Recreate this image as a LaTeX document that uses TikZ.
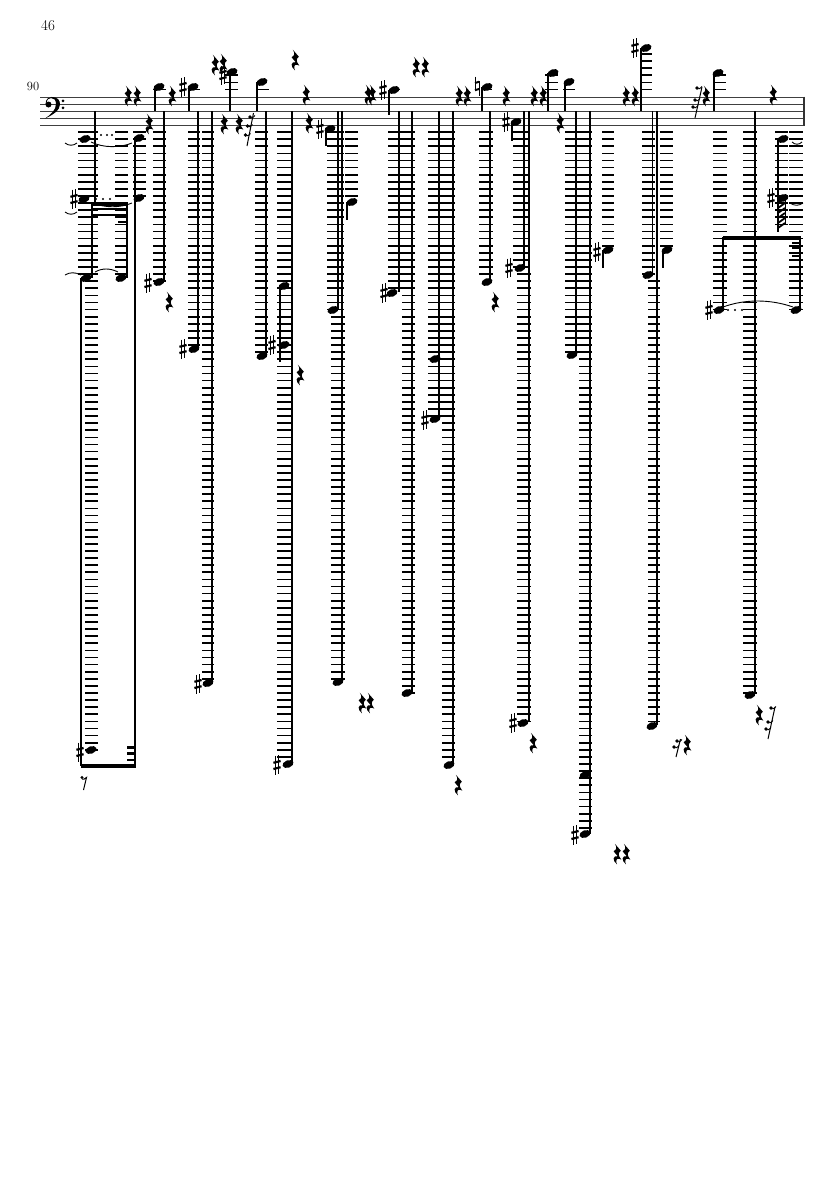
\documentclass[tikz,border=0pt]{standalone}
\tikzset{
  stemline/.style={line width=1.2pt,black},
  ledgerline/.style={line width=1.7pt,black},
  staffline/.style={line width=1pt,black!75},
  beamline/.style={line width=4pt,black,line cap=butt},
  stubline/.style={line width=2.6pt,black,line cap=butt},
  tieline/.style={line width=0.9pt,black},
  numtext/.style={inner sep=0pt}
}
\newcommand{\nh}[2]{\fill[black,rotate around={20:(#1,#2)}] (#1,#2) ellipse [x radius=5.7,y radius=3.7];}
\newcommand{\stm}[3]{\draw[stemline] (#1,#2) -- (#1,#3);}
\newcommand{\ldg}[4]{\foreach \k in {#3,...,#4}{\draw[ledgerline] (#1,125+\k*7.1) -- (#2,125+\k*7.1);}}
\newcommand{\shp}[2]{\begin{scope}[shift={(#1,#2)}]
  \draw[line width=0.8pt] (-1.7,-9.5) -- (-1.7,9.5) (1.7,-10) -- (1.7,9);
  \draw[line width=2.2pt] (-3.6,-2.2) -- (3.6,-4) (-3.6,4) -- (3.6,2.2);
\end{scope}}
\newcommand{\nat}[2]{\begin{scope}[shift={(#1,#2)}]
  \draw[line width=0.8pt] (-2,-9.5) -- (-2,5) (2,-5) -- (2,9.5);
  \draw[line width=2pt] (-2,-3) -- (2,-4.2) (-2,4.2) -- (2,3);
\end{scope}}
\newcommand{\qrst}[2]{\begin{scope}[shift={(#1,#2)},scale=1.08]
  \fill[black] (-2,-9.5) -- (3.6,-3) .. controls (1,-1) and (0.7,1) .. (4,5.2)
   .. controls (1,3.6) and (-2.2,4) .. (0,9.6) .. controls (-4.6,6) and (-3.8,1.2) .. (0.6,2)
   -- (-3.2,-2.6) .. controls (-0.6,-4) and (0.4,-5.6) .. (-2,-9.5) -- cycle;
\end{scope}}
% slashed rest: stem from (#1,#2) to (#3,#4), flag dots in #5 as x/y pairs
\newcommand{\srst}[5]{\draw[line width=1pt] (#1,#2) -- (#3,#4);
  \foreach \dx/\dy in {#5}{\fill[black] (\dx,\dy) circle (1.8);
    \draw[line width=0.9pt] (\dx,\dy+0.8) .. controls (\dx+2,\dy+1.4) and (\dx+3.5,\dy+0.5) .. (\dx+5,\dy-1.5);}}
\newcommand{\dotsrow}[4]{\foreach \q in {#1,#2,#3}{\fill[black] (\q,#4) circle (1.2);}}
\begin{document}
\begin{tikzpicture}[x=1pt,y=-1pt]
\useasboundingbox (0,0) rectangle (835,1181);
\fill[white] (0,0) rectangle (835,1181);
\node[numtext,font=\fontsize{15}{15}\selectfont] (pagenum) at (48,26) {46};
\node[numtext,font=\fontsize{12.5}{12.5}\selectfont] (barnum) at (33,86) {90};
% staff
\foreach \y in {97,104.1,111.2,118.3,125.4}{\draw[staffline] (40,\y) -- (804,\y);}
\draw[line width=2pt,black!80] (803.5,96.5) -- (803.5,126);
% bass clef
\fill[black] (48.5,104.5) circle (3);
\draw[line width=0.8pt] (46,104) .. controls (46,99) and (49,97.3) .. (52,97.3);
\fill[black] (52,97) .. controls (58,97) and (60,100.5) .. (60,104.5) .. controls (60,110) and (53,115) .. (45,118.5) .. controls (51,114.5) and (56,110) .. (56,104) .. controls (56,100) and (54,98) .. (51,98) -- cycle;
\fill[black] (63,100.8) circle (1.5) (63,107.8) circle (1.5);
% ledger columns
\ldg{78}{98}{1}{21}\ldg{85}{98}{22}{88}
\ldg{115}{128}{1}{21}\ldg{133}{146}{1}{10}
\ldg{153}{166}{1}{22}\ldg{188}{200}{1}{31}\ldg{202}{214}{1}{78}
\ldg{255}{268}{1}{32}\ldg{277}{293}{1}{89}
\ldg{327}{344}{1}{26}\ldg{331}{345}{27}{78}\ldg{345}{358}{1}{10}
\ldg{388}{402}{1}{23}\ldg{402}{415}{1}{80}
\ldg{428}{443}{1}{41}\ldg{442}{455}{1}{89}\ldg{479}{493}{1}{21}
\ldg{513}{530}{1}{20}\ldg{517}{531}{21}{84}
\ldg{565}{592}{1}{32}\ldg{579}{592}{33}{99}\ldg{602}{614}{1}{17}
\ldg{642}{655}{1}{21}\ldg{648}{660}{22}{84}\ldg{660}{673}{1}{17}
\ldg{713}{727}{1}{26}\ldg{743}{757}{1}{80}
\ldg{775}{788}{1}{14}\ldg{789}{803}{1}{26}
% ledgers above staff
\ldg{153}{166}{-5}{-5}\ldg{188}{200}{-5}{-5}\ldg{225}{238}{-7}{-5}\ldg{256}{269}{-5}{-5}
\ldg{389}{400}{-5}{-5}\ldg{482}{492}{-5}{-5}\ldg{545}{558}{-7}{-5}\ldg{563}{575}{-5}{-5}
\ldg{640}{652}{-10}{-5}\ldg{713}{726}{-7}{-5}
% first group
\stm{95}{111}{202}\stm{92}{203}{278}\stm{81}{278}{766}\stm{135}{138}{766}\stm{127}{203}{278}
\draw[beamline] (92,203.5) -- (127.5,203.5);
\draw[stubline] (92,209) -- (127.5,209) (92,215) -- (127.5,215);
\draw[stubline] (118,222) -- (127.5,222);
\draw[beamline] (80.5,766) -- (135.5,766);
\draw[stubline] (127,747.5) -- (135.5,747.5) (127,753.5) -- (135.5,753.5) (127,760) -- (135.5,760);
\nh{85}{139}\nh{139}{138}\nh{84}{199}\nh{139}{198}\nh{86}{278}\nh{121}{278}\nh{91}{750}
\shp{74}{199}\shp{80}{752}
\dotsrow{101}{107}{112}{135}\dotsrow{96}{103}{110}{199}
\draw[tieline] (65,143) .. controls (69,146) and (73,146) .. (77,143);
\draw[tieline] (91,142) .. controls (103,148) and (120,148) .. (132,143);
\draw[tieline] (65,212) .. controls (69,215) and (73,215) .. (77,212);
\draw[tieline] (93,203) .. controls (105,208) and (120,208) .. (132,203);
\draw[tieline] (65,275) .. controls (70,272) and (75,272) .. (81,275);
\draw[tieline] (95,272) .. controls (102,268) and (110,268) .. (118,272);
% eighth rest under the beam
\fill[black] (82,777.5) circle (1.6);
\draw[line width=1pt] (82,779) .. controls (83.5,779.5) and (85,779) .. (86.5,777.5) -- (83.5,790);
% second group
\qrst{128}{96}\qrst{137}{96}\qrst{149}{124}
\stm{155}{87}{111}\nh{159}{87}\stm{164}{111}{282}\nh{159}{282}\shp{148}{283}\qrst{169}{302}
\qrst{172}{96}\shp{183}{87}\stm{189}{87}{111}\nh{193}{87}
\stm{198}{111}{349}\nh{194}{349}\shp{183}{349}
\stm{212}{111}{683}\nh{208}{683}\shp{198}{684}
\qrst{215}{65}\qrst{223}{64}\shp{223}{75}\nh{232}{72}\stm{230}{72}{111}
\qrst{224}{124}\qrst{239}{124}
\srst{253.5}{113}{247}{146}{250/117,247.5/126,245.5/135}
\nh{262}{82}\stm{257}{82}{111}\stm{266}{111}{356}\nh{262}{356}
\stm{292}{111}{764}\nh{288}{764}\shp{277}{765}
\stm{280}{286}{362}\nh{284}{286}\nh{284}{345}\shp{272}{345}\qrst{300}{375}
\qrst{295}{60}\qrst{306}{95}\qrst{309}{123}\shp{320}{129}\nh{330}{129}\stm{326}{129}{146}
\stm{338}{111}{310}\nh{333}{310}\stm{342}{111}{682}\nh{338}{682}
\nh{352}{202}\stm{347}{202}{220}
\qrst{362}{703}\qrst{370}{703}
% third group
\qrst{368}{95}\qrst{372}{95}\shp{383}{90}\nh{394}{90}\stm{389}{90}{115}
\stm{399}{111}{292}\nh{392}{293}\shp{384}{293}
\stm{412}{111}{693}\nh{407}{693}
\qrst{416}{67}\qrst{425}{67}
\stm{439}{111}{419}\nh{435}{419}\shp{425}{420}\nh{435}{359}
\stm{453}{111}{764}\nh{449}{765}\qrst{458}{785}
\qrst{459}{96}\qrst{467}{96}\nat{477}{86}\nh{487}{87}\stm{482}{87}{111}
\stm{490}{111}{282}\nh{487}{282}\qrst{495}{302}
\qrst{506}{96}\shp{506}{122}\nh{516}{122}\stm{512}{122}{141}
\stm{524}{111}{268}\nh{520}{268}\shp{509}{268}
\stm{529}{111}{722}\nh{523}{723}\shp{513}{723}\qrst{533}{743}
\qrst{534}{96}\qrst{543}{96}
\nh{553}{73}\stm{548}{73}{111}\nh{569}{82}\stm{565}{82}{111}\qrst{560}{123}
\stm{576}{111}{355}\nh{572}{355}\stm{590}{111}{834}\nh{585}{775}\nh{585}{834}\shp{575}{835}
\nh{608}{250}\shp{597}{252}\stm{603}{250}{268}
\qrst{617}{854}\qrst{626}{854}
\qrst{626}{96}\qrst{635}{96}\shp{635}{48}\nh{646}{48}\stm{641}{48}{111}
\stm{652.5}{111}{274}\nh{648}{275}\stm{657}{111}{725}\nh{652}{726}
\nh{667}{250}\stm{663}{250}{268}
\srst{680.5}{739}{676}{757}{677/741,674/747}\qrst{687}{745}
% last group
\srst{702}{87}{695}{118}{697/88,695/100,693/107}\qrst{706}{96}\nh{718}{73}\stm{714}{73}{111}\qrst{773}{95}
\stm{755}{111}{694}\nh{750}{695}
\qrst{759}{715}\srst{775}{707}{768}{739}{771/708,768/722,766/729}
\nh{783}{139}\stm{778}{139}{232}\nh{783}{198}\shp{771}{198}
\foreach \y in {203,208,213,218,223,228}{\draw[line width=1.8pt] (778,\y) -- (785,\y-5);}
\draw[line width=1pt] (785,200) -- (785,224);
\draw[tieline] (792,142) .. controls (795,145) and (799,145) .. (802,142);
\draw[tieline] (790,203) .. controls (794,206) and (799,206) .. (803,203);
\draw[beamline] (723,237.5) -- (800.5,237.5);
\stm{723}{237}{310}\stm{800}{237}{310}
\draw[stubline] (792,243) -- (800.5,243) (792,248) -- (800.5,248) (792,256) -- (800.5,256);
\nh{719}{310}\shp{709}{310}\nh{796}{310}
\dotsrow{728}{735}{742}{310}
\draw[tieline] (723,307) .. controls (745,299) and (770,299) .. (793,307);
\end{tikzpicture}
\end{document}
